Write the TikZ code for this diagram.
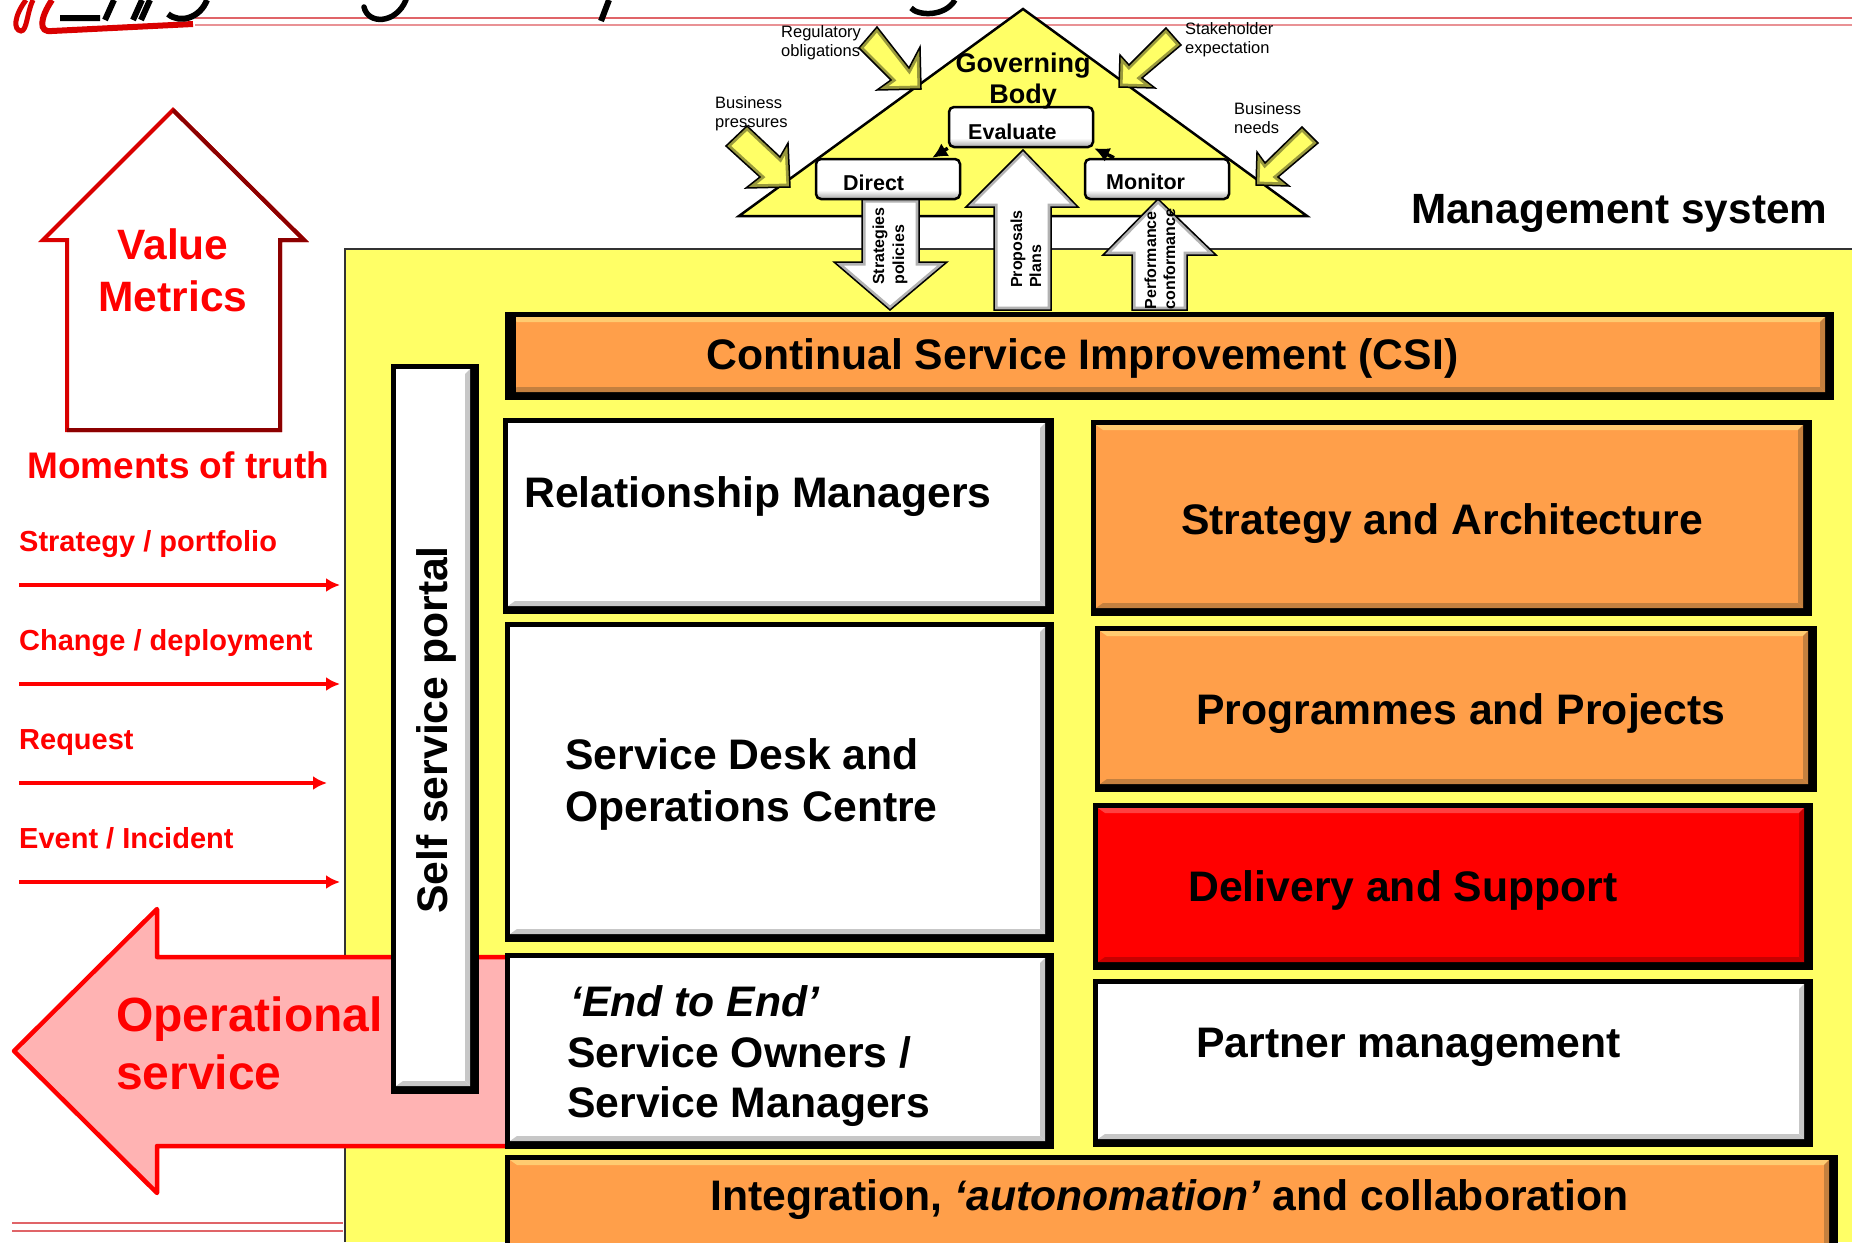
\documentclass[tikz,border=0pt]{standalone}
\usepackage{fontspec}
\setmainfont{Liberation Sans}
\definecolor{panelyellow}{HTML}{FFFF66}
\definecolor{boxorange}{HTML}{FF9F4A}
\definecolor{orangelight}{HTML}{FFCB70}
\definecolor{orangedark}{HTML}{C4803F}
\definecolor{redlight}{HTML}{FF4040}
\definecolor{reddark}{HTML}{C80000}
\definecolor{rulered}{HTML}{E06468}
\definecolor{arrowpink}{HTML}{FFB3B3}
\pgfdeclareverticalshading{keyshade}{100bp}{color(0bp)=(black!35); color(25bp)=(black!35); color(36bp)=(white); color(100bp)=(white)}
\newcommand{\fsize}[1]{\fontsize{#1}{#1}\selectfont}
% black frame, then the face with its four bevel bands
\newcommand{\bevelbox}[7]{%
\pgfmathsetmacro{\ia}{#1+5}\pgfmathsetmacro{\ib}{#2+5}%
\pgfmathsetmacro{\ic}{#3-9}\pgfmathsetmacro{\id}{#4-8}%
\pgfmathsetmacro{\ja}{\ia+7}\pgfmathsetmacro{\jb}{\ib+5}%
\pgfmathsetmacro{\jc}{\ic-5}\pgfmathsetmacro{\jd}{\id-5}%
\fill[black] (#1,#2) rectangle (#3,#4);
\fill[#5] (\ia,\ib) rectangle (\ic,\id);
\fill[#6] (\ia,\ib) -- (\ic,\ib) -- (\jc,\jb) -- (\ja,\jb) -- cycle;
\fill[#7] (\ia,\id) -- (\ic,\id) -- (\jc,\jd) -- (\ja,\jd) -- cycle;
\fill[#7] (\ic,\ib) -- (\ic,\id) -- (\jc,\jd) -- (\jc,\jb) -- cycle;
}
% arrow outline with a soft rim on the inside
\newcommand{\rimarrow}[3]{%
\begin{scope}
\clip #3;
\fill[#1] #3;
\draw[#2,line width=7] #3;
\end{scope}
\draw[black,line width=1.5,line join=miter] #3;
}
\tikzset{
  boxtext/.style={font=\fsize{42.7}\bfseries,anchor=base west,inner sep=0pt},
  redtext/.style={font=\fsize{29}\bfseries,text=red,anchor=base west,inner sep=0pt},
  smalltext/.style={font=\fsize{16.5},anchor=base west,inner sep=0pt,align=left},
  sidetext/.style={font=\fsize{16}\bfseries,inner sep=0pt,align=left,rotate=90},
  govbox/.style={draw=black,line width=2.5,rounded corners=5,minimum height=40,shading=keyshade},
  govtext/.style={font=\fsize{21.5}\bfseries,anchor=base west,inner sep=0pt},
  redrule/.style={draw=rulered,line width=2},
  moment/.style={draw=red,line width=4.5,-{Latex[length=14,width=14]}},
}
\usetikzlibrary{arrows.meta}
\begin{document}
\begin{tikzpicture}[x=1pt,y=-1pt]
\useasboundingbox (0,0) rectangle (1852,1242);
% header rules and what is left of the title
\draw[redrule] (195,18) -- (1852,18);
\draw[redrule,draw=rulered!70] (195,25) -- (1852,25);
\draw[line width=5.5,line cap=round] (364,7) .. controls (368,25) and (396,24) .. (406,0);
\draw[line width=6] (609,0) -- (601,21);
\draw[line width=5.5] (911,8) .. controls (918,16) and (945,17) .. (955,0);
% logo
\draw[line width=5,red!85!black] (26,0) .. controls (14,16) and (13,30) .. (21,31) .. controls (27,31) and (27,12) .. (33,0);
\draw[line width=6,red!85!black] (52,0) .. controls (40,18) and (38,33) .. (52,31) -- (193,24);
\draw[line width=6,black] (60,18) -- (100,18) (114,0) -- (105,20) (142,0) -- (133,20) (150,0) -- (141,20) (168,14) .. controls (180,24) and (200,18) .. (207,0);
% governing body
\draw[line width=2.5,draw=black,fill=panelyellow,line join=miter] (1023,9) -- (1307,216) -- (739,216) -- cycle;
\rimarrow{panelyellow}{panelyellow!60!black}{(877,27) -- (909,68) -- (920,47) -- (921,89) -- (877,90) -- (891,80) -- (859,48) -- cycle}
\rimarrow{panelyellow}{panelyellow!60!black}{(1166,28) -- (1181,45) -- (1142,78) -- (1155,88) -- (1119,87) -- (1120,55) -- (1129,65) -- cycle}
\rimarrow{panelyellow}{panelyellow!60!black}{(747,126) -- (780,157) -- (788,143) -- (790,187) -- (746,188) -- (760,177) -- (726,146) -- cycle}
\rimarrow{panelyellow}{panelyellow!60!black}{(1302,127) -- (1318,143) -- (1278,177) -- (1289,186) -- (1256,185) -- (1257,152) -- (1265,163) -- cycle}
\node (regulatory) at (781,56) [smalltext] {Regulatory\\[2.5pt]obligations};
\node (stakeholder) at (1185,53) [smalltext] {Stakeholder\\[2.5pt]expectation};
\node (pressures) at (715,127) [smalltext] {Business\\[2.5pt]pressures};
\node (needs) at (1234,133) [smalltext] {Business\\[2.5pt]needs};
% management system panel
\fill[panelyellow] (345,249) rectangle (1852,1242);
\draw[line width=2,black!80] (345,1242) -- (345,249) -- (1852,249);
\draw[redrule,line width=1.5] (12,1223) -- (343,1223);
\draw[redrule] (12,1231) -- (343,1231);
% the three big arrows
\rimarrow{white}{black!30}{(862,199) -- (919,199) -- (919,262) -- (947,262) -- (890,310) -- (834,262) -- (862,262) -- cycle}
\rimarrow{white}{black!30}{(1023,150) -- (1078,207) -- (1051,207) -- (1051,310) -- (994,310) -- (994,207) -- (966,207) -- cycle}
\rimarrow{white}{black!30}{(1158,199) -- (1216,255) -- (1187,255) -- (1187,310) -- (1132,310) -- (1132,255) -- (1103,255) -- cycle}
\node (strategies) at (890,246) [sidetext] {Strategies\\[4pt]policies};
\node (proposals) at (1026,249) [sidetext] {Proposals\\[3pt]Plans};
\node (performance) at (1160,259) [sidetext] {Performance\\[3pt]conformance};
\node (evaluate) at (1021,127) [govbox,minimum width=144] {};
\node (direct) at (888,179) [govbox,minimum width=144] {};
\node (monitor) at (1157,179) [govbox,minimum width=144] {};
\node (evaluatetext) at (968,139) [govtext] {Evaluate};
\node (directtext) at (843,190) [govtext] {Direct};
\node (monitortext) at (1106,189) [govtext] {Monitor};
\draw[-{Latex[length=15,width=15]},line width=3.5] (evaluate.south west) -- ([xshift=-29]direct.north east);
\draw[-{Latex[length=15,width=15]},line width=3.5] ([xshift=-43]monitor.north) -- (evaluate.south east);
\node (governing) at (1023,72) [font=\fsize{27}\bfseries,anchor=base,inner sep=0pt] {Governing};
\node (body) at (1023,103) [font=\fsize{27}\bfseries,anchor=base,inner sep=0pt] {Body};
\node (management) at (1411,223) [boxtext,font=\fsize{42.3}\bfseries] {Management system};
% value metrics house
\draw[draw=red!85!black,line width=4,fill=white,line join=miter] (173,110) -- (304,240) -- (280,240) -- (280,430) -- (67,430) -- (67,240) -- (43,240) -- cycle;
\draw[draw=red!55!black,line width=4,line join=miter] (173,110) -- (304,240) -- (280,240) -- (280,430) -- (67,430);
\node (value) at (173,259) [font=\fsize{42.5}\bfseries,text=red,anchor=base,inner sep=0pt] {Value};
\node (metrics) at (173,311) [font=\fsize{42.5}\bfseries,text=red,anchor=base,inner sep=0pt] {Metrics};
% moments of truth
\node (moments) at (27,478) [redtext,font=\fsize{37}\bfseries] {Moments of truth};
\node (portfolio) at (19,551) [redtext] {Strategy / portfolio};
\node (deployment) at (19,650) [redtext] {Change / deployment};
\node (request) at (19,749) [redtext] {Request};
\node (incident) at (19,848) [redtext] {Event / Incident};
\coordinate (portfolioend) at (340,585);
\coordinate (deploymentend) at (340,684);
\coordinate (requestend) at (327,783);
\coordinate (incidentend) at (340,882);
\draw[moment] (19,585) -- (portfolioend);
\draw[moment] (19,684) -- (deploymentend);
\draw[moment] (19,783) -- (requestend);
\draw[moment] (19,882) -- (incidentend);
% operational service arrow
\draw[draw=red,line width=4.5,fill=arrowpink,line join=round] (510,957) -- (157,957) -- (157,909) -- (14,1051) -- (157,1193) -- (157,1146) -- (510,1146);
\node (operational) at (116,1031) [font=\fsize{48}\bfseries,text=red,anchor=base west,inner sep=0pt] {Operational};
\node (service) at (116,1089) [font=\fsize{48}\bfseries,text=red,anchor=base west,inner sep=0pt] {service};
% boxes
\bevelbox{391}{364}{479}{1094}{white}{white}{black!22}
\node (portal) at (436,730) [font=\fsize{42.7}\bfseries,rotate=90,inner sep=0pt] {Self service portal};
\bevelbox{505}{312}{1834}{400}{boxorange}{orangelight}{orangedark}
\fill[black] (505,312) rectangle (516,400);
\bevelbox{503}{418}{1054}{614}{white}{white}{black!22}
\bevelbox{505}{622}{1054}{942}{white}{white}{black!22}
\bevelbox{505}{953}{1054}{1149}{white}{white}{black!22}
\bevelbox{1091}{420}{1812}{616}{boxorange}{orangelight}{orangedark}
\bevelbox{1095}{626}{1817}{792}{boxorange}{orangelight}{orangedark}
\bevelbox{1093}{803}{1813}{970}{red}{redlight}{reddark}
\bevelbox{1093}{979}{1813}{1147}{white}{white}{black!22}
\bevelbox{505}{1155}{1838}{1260}{boxorange}{orangelight}{orangedark}
\node (csi) at (706,369) [boxtext] {Continual Service Improvement (CSI)};
\node (relationship) at (524,507) [boxtext] {Relationship Managers};
\node (servicedesk) at (565,769) [boxtext] {Service Desk and};
\node (centre) at (565,821) [boxtext] {Operations Centre};
\node (endtoend) at (570,1016) [boxtext,font=\fsize{42.7}\bfseries\itshape] {‘End to End’};
\node (owners) at (567,1067) [boxtext] {Service Owners /};
\node (managers) at (567,1117) [boxtext] {Service Managers};
\node (strategy) at (1181,534) [boxtext] {Strategy and Architecture};
\node (programmes) at (1196,724) [boxtext] {Programmes and Projects};
\node (delivery) at (1188,901) [boxtext] {Delivery and Support};
\node (partner) at (1196,1057) [boxtext] {Partner management};
\node (integration) at (710,1210) [boxtext] {Integration, \textit{‘autonomation’} and collaboration};
\end{tikzpicture}
\end{document}
